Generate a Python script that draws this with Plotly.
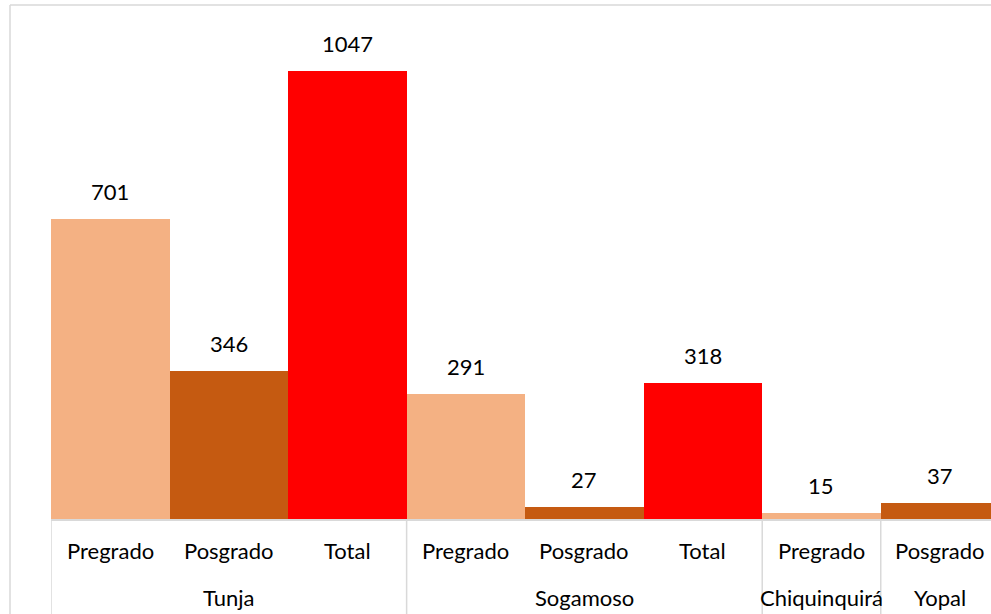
import plotly.graph_objects as go

# Data
sedes = ["Tunja", "Tunja", "Tunja", "Sogamoso", "Sogamoso", "Sogamoso", "Chiquinquirá", "Yopal"]
niveles = ["Pregrado", "Posgrado", "Total", "Pregrado", "Posgrado", "Total", "Pregrado", "Posgrado"]
valores = [701, 346, 1047, 291, 27, 318, 15, 37]

colores_nivel = {"Pregrado": "#F4B183", "Posgrado": "#C55A11", "Total": "#FF0000"}
font_name = "Lato"
fsize = 22

pos = list(range(len(valores)))
colors = [colores_nivel[n] for n in niveles]

fig = go.Figure()
fig.add_trace(go.Bar(
    x=pos, y=valores, width=1.0,
    marker=dict(color=colors, line=dict(width=0)),
    hoverinfo="x+y",
))

annotations = []
# value labels above bars
for p, v in zip(pos, valores):
    annotations.append(dict(x=p, y=v, xref="x", yref="y", text=str(v), showarrow=False,
                            yanchor="bottom", yshift=12, font=dict(size=fsize, color="#000000")))
# sub-category labels
for p, n in zip(pos, niveles):
    annotations.append(dict(x=p, y=0, xref="x", yref="paper", text=n, showarrow=False,
                            yanchor="middle", yshift=-31, font=dict(size=fsize, color="#000000")))
# group labels centred under each group
groups = []
for p, s in zip(pos, sedes):
    if not groups or groups[-1][0] != s:
        groups.append([s, p, p])
    else:
        groups[-1][2] = p
for s, a, b in groups:
    annotations.append(dict(x=(a + b) / 2, y=0, xref="x", yref="paper", text=s, showarrow=False,
                            yanchor="middle", yshift=-78, font=dict(size=fsize, color="#000000")))

# dividers between groups
shapes = []
for s, a, b in groups:
    shapes.append(dict(type="line", xref="x", yref="paper", x0=a - 0.5, x1=a - 0.5,
                       y0=0, y1=-0.25, line=dict(color="#D9D9D9", width=1.5)))
# chart area border (top / left visible)
shapes.append(dict(type="line", xref="paper", yref="paper", x0=-41 / 940, x1=1.05,
                   y0=1 + 15 / 499, y1=1 + 15 / 499, line=dict(color="#D9D9D9", width=1.5)))
shapes.append(dict(type="line", xref="paper", yref="paper", x0=-41 / 940, x1=-41 / 940,
                   y0=1 + 15 / 499, y1=-0.3, line=dict(color="#D9D9D9", width=1.5)))

fig.update_layout(
    width=991, height=614,
    margin=dict(l=51, r=0, t=20, b=95),
    paper_bgcolor="white", plot_bgcolor="white",
    font=dict(family=font_name, size=fsize, color="#000000"),
    showlegend=False,
    bargap=0,
    annotations=annotations,
    shapes=shapes,
    xaxis=dict(range=[-0.5, 7.43], showticklabels=False, showgrid=False, zeroline=False,
               showline=True, linecolor="#D9D9D9", linewidth=1.5, ticks=""),
    yaxis=dict(range=[0, 1166], visible=False),
)

fig.write_html("out.html", config={"displayModeBar": False},
               post_script="document.body.style.margin='0';")
